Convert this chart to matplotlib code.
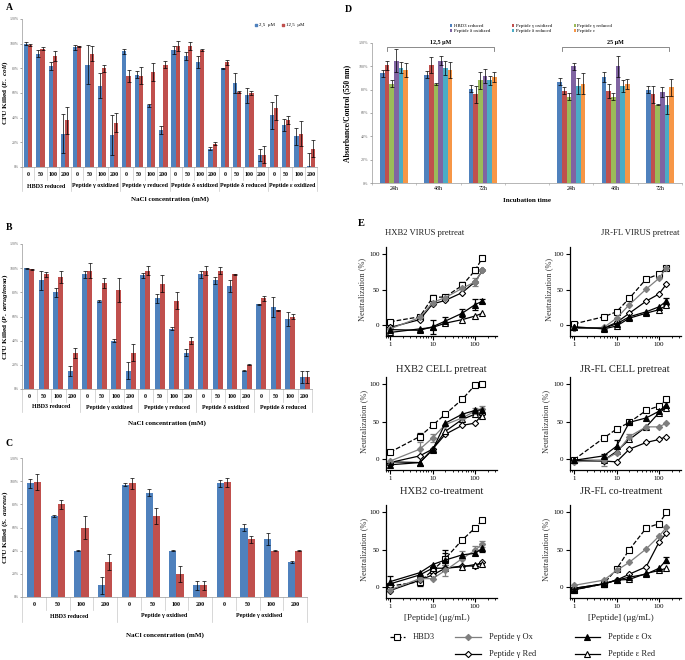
import matplotlib
matplotlib.use('Agg')
import matplotlib.pyplot as plt
import numpy as np
from matplotlib.transforms import blended_transform_factory

plt.rcParams['font.family'] = ['Liberation Serif', 'DejaVu Serif']
plt.rcParams['mathtext.fontset'] = 'custom'
plt.rcParams['mathtext.it'] = 'Liberation Serif:italic:bold'
plt.rcParams['mathtext.rm'] = 'Liberation Serif:bold'

# ---------------- data ----------------
nacl = ['0', '50', '100', '200']

a_groups = ['HBD3 reduced', 'Peptide γ oxidized', 'Peptide γ reduced',
            'Peptide δ oxidized', 'Peptide δ reduced', 'Peptide ε oxidized']
a_blue = [100, 92, 82, 27, 97, 83, 66, 26, 94, 75, 50, 30,
          95, 90, 85, 15, 80, 68, 58, 10, 42, 34, 25, 1]
a_blue_err = [1, 3, 3, 16, 2, 16, 10, 16, 2, 3, 1, 3,
              3, 3, 5, 1, 0.5, 8, 6, 5, 11, 5, 7, 10]
a_red = [99, 96, 90, 38, 98, 92, 80, 36, 74, 74, 77, 83,
         98, 98, 95, 19, 85, 61, 60, 10, 48, 38, 27, 15]
a_red_err = [0.5, 1, 4, 11, 0.5, 6, 3, 8, 5, 7, 7, 3,
             4, 3, 1, 1, 2, 1, 2, 7, 10, 3, 10, 7]

b_groups = ['HBD3 reduced', 'Peptide γ oxidized', 'Peptide γ reduced',
            'Peptide δ oxidized', 'Peptide δ reduced']
b_blue = [100, 90, 80, 15, 95, 73, 40, 15, 94, 75, 50, 30,
          95, 90, 85, 15, 70, 68, 58, 10]
b_blue_err = [0.5, 8, 4, 4, 3, 1, 1, 7, 2, 4, 1, 3,
              3, 3, 5, 0.5, 0.5, 8, 6, 5]
b_red = [99, 95, 93, 30, 98, 88, 82, 30, 98, 87, 73, 40,
         98, 98, 95, 20, 75, 65, 60, 10]
b_red_err = [0.5, 2, 5, 4, 6, 4, 10, 7, 4, 7, 7, 3,
             4, 3, 0.5, 0.5, 2, 0.5, 2, 5]

c_groups = ['HBD3 reduced', 'Peptide γ oxidised', 'Peptide γ oxidised']
c_blue = [98, 70, 40, 10, 97, 90, 40, 10, 98, 60, 50, 30]
c_blue_err = [4, 1, 0.5, 7, 1, 3, 0.5, 4, 3, 3, 5, 1]
c_red = [99, 80, 60, 30, 98, 70, 20, 10, 99, 50, 40, 40]
c_red_err = [7, 4, 10, 7, 5, 7, 7, 4, 4, 3, 0.5, 0.5]

d_times = ['24h', '48h', '72h', '', '24h', '48h', '72h']
d_series = ['HBD3 reduced', 'Peptide γ oxidized', 'Peptide γ reduced',
            'Peptide δ oxidized', 'Peptide δ reduced', 'Peptide ε']
d_hbd3 = [94, 93, 81, 87, 91, 80]
d_hbd3_err = [3, 3, 3, 3, 4, 3]
d_gox = [101, 101, 76, 79, 79, 76]
d_gox_err = [4, 7, 7, 3, 6, 7]
d_gred = [85, 85, 88, 74, 74, 67]
d_gred_err = [3, 1, 7, 3, 3, 0.5]
d_dox = [105, 105, 92, 100, 100, 78]
d_dox_err = [10, 4, 6, 3, 9, 4]
d_dred = [99, 99, 88, 83, 83, 67]
d_dred_err = [5, 6, 4, 7, 5, 8]
d_eps = [97, 97, 91, 85, 85, 82]
d_eps_err = [6, 7, 4, 9, 4, 7]
d_conc_labels = ['12,5 µM', '25 µM']

e_conc = [1, 5, 10, 20, 50, 100, 150]
e_series = ['HBD3', 'Peptide γ Ox', 'Peptide γ Red', 'Peptide ε Ox', 'Peptide ε Red']

hxb2_virus_hbd3 = [5, 12, 39, 40, 56, 77, 95]
hxb2_virus_gox = [-5, 11, 32, 39, 52, 61, 77]
hxb2_virus_gred = [-3, 8, 30, 35, 46, 61, 77]
hxb2_virus_eox = [-6, -7, -2, 6, 17, 29, 34]
hxb2_virus_ered = [-10, -5, -3, 3, 8, 13, 17]
hxb2_virus_hbd3_err = [0, 0, 3, 0, 5, 3, 0]
hxb2_virus_gox_err = [0, 0, 0, 0, 0, 6, 0]
hxb2_virus_eox_err = [0, 0, 10, 5, 6, 8, 3]

jrfl_virus_hbd3 = [2, 12, 19, 38, 65, 72, 81]
jrfl_virus_gox = [-4, -3, 10, 29, 51, 66, 81]
jrfl_virus_gred = [-4, -4, 4, 17, 34, 44, 58]
jrfl_virus_eox = [-3, -4, 2, 12, 19, 26, 34]
jrfl_virus_ered = [-2, -5, -1, 10, 17, 22, 28]
jrfl_virus_eox_err = [0, 0, 0, 0, 0, 0, 5]

hxb2_cell_hbd3 = [9, 30, 45, 60, 80, 99, 100]
hxb2_cell_gox = [-3, 13, 28, 46, 55, 64, 67]
hxb2_cell_gred = [-5, 4, 13, 33, 45, 48, 60]
hxb2_cell_eox = [-8, -5, 12, 48, 60, 65, 66]
hxb2_cell_ered = [-4, -5, 13, 37, 53, 60, 58]
hxb2_cell_hbd3_err = [0, 5, 0, 0, 0, 0, 0]
hxb2_cell_gox_err = [0, 10, 6, 0, 5, 4, 4]

jrfl_cell_hbd3 = [-1, 28, 40, 49, 65, 71, 80]
jrfl_cell_gox = [-4, -2, 8, 30, 43, 43, 48]
jrfl_cell_gred = [-3, -3, -4, 13, 22, 26, 30]
jrfl_cell_eox = [-2, 4, 17, 49, 55, 64, 73]
jrfl_cell_ered = [-2, -2, 10, 26, 43, 62, 69]
jrfl_cell_gox_err = [0, 7, 0, 3, 0, 0, 0]
jrfl_cell_eox_err = [0, 3, 8, 0, 0, 0, 4]

hxb2_co_hbd3 = [1, 7, 22, 38, 63, 79, 90]
hxb2_co_gox = [-4, 11, 11, 22, 38, 49, 58]
hxb2_co_gred = [-5, 9, 16, 25, 28, 28, 34]
hxb2_co_eox = [7, 19, 30, 36, 43, 45, 52]
hxb2_co_ered = [4, 16, 25, 25, 27, 30, 31]
hxb2_co_hbd3_err = [0, 6, 0, 8, 0, 0, 0]
hxb2_co_gox_err = [0, 0, 0, 8, 10, 6, 4]
hxb2_co_eox_err = [8, 0, 0, 13, 0, 0, 5]

jrfl_co_hbd3 = [-4, 4, 24, 50, 79, 85, 100]
jrfl_co_gox = [2, 9, 22, 33, 51, 68, 80]
jrfl_co_gred = [-2, 4, 9, 17, 27, 60, 72]
jrfl_co_eox = [-4, 4, 9, 13, 17, 25, 36]
jrfl_co_ered = [-2, 4, 9, 10, 18, 22, 25]
jrfl_co_eox_err = [0, 0, 0, 0, 0, 0, 4]

# ---------------- figure ----------------
W, H = 685, 660
fig = plt.figure(figsize=(W / 100, H / 100), dpi=100)
fig.patch.set_facecolor('white')

BLUE = '#4F81BD'
RED = '#C0504D'
D_COLORS = ['#4F81BD', '#C0504D', '#9BBB59', '#8064A2', '#4BACC6', '#F79646']


def axpx(l, t, r, b, **kw):
    return fig.add_axes([l / W, 1 - b / H, (r - l) / W, (b - t) / H], **kw)


ov = fig.add_axes([0, 0, 1, 1], zorder=10)
ov.set_xlim(0, W)
ov.set_ylim(H, 0)
ov.axis('off')
ov.patch.set_alpha(0)


def T(x, y, s, **kw):
    kw.setdefault('ha', 'center')
    kw.setdefault('va', 'center')
    ov.text(x, y, s, **kw)


ekw = dict(elinewidth=0.5, capsize=1.1, capthick=0.5, ecolor='black')


def bar_panel(rect, groups, blue, blue_err, red, red_err, width, ylabel,
              tick_y, group_y, xlabel_y, sep_short, sep_long):
    l, t, r, b = rect
    ax = axpx(l, t, r, b)
    n = len(blue)
    x = np.arange(n)
    ax.bar(x - width / 2, blue, width, yerr=blue_err, color=BLUE, error_kw=ekw)
    ax.bar(x + width / 2, red, width, yerr=red_err, color=RED, error_kw=ekw)
    ax.set_xlim(-0.5, n - 0.5)
    ax.set_ylim(0, 120)
    ax.set_yticks(range(0, 121, 20))
    ax.set_yticklabels([f'{v}%' for v in range(0, 121, 20)])
    ax.tick_params(axis='y', labelsize=2.8, length=1.5, width=0.4, pad=0.8,
                   colors='#666666')
    ax.set_xticks([])
    for s in ('top', 'right'):
        ax.spines[s].set_visible(False)
    for s in ('left', 'bottom'):
        ax.spines[s].set_color('#999999')
        ax.spines[s].set_linewidth(0.5)
    hpx = b - t
    trans = blended_transform_factory(ax.transData, ax.transAxes)
    for i in range(n + 1):
        L = (sep_long if i % 4 == 0 else sep_short) / hpx
        ax.plot([i - 0.5, i - 0.5], [0, -L], transform=trans, clip_on=False,
                color='#c8c8c8', lw=0.5)
    for i in range(n):
        ax.text(i, -(tick_y - b) / hpx, nacl[i % 4], transform=trans,
                ha='center', va='center', fontsize=4.3, fontweight='bold')
    for g, name in enumerate(groups):
        ax.text(g * 4 + 1.5, -(group_y - b) / hpx, name, transform=trans,
                ha='center', va='center', fontsize=4.3, fontweight='bold')
    T((l + r) / 2, xlabel_y, 'NaCl concentration (mM)', fontsize=5,
      fontweight='bold')
    T(5.5, (t + b) / 2, ylabel, rotation=90, fontsize=5.2, fontweight='bold')
    return ax


# Panel A
axA = bar_panel((22, 19, 317, 167), a_groups, a_blue, a_blue_err, a_red, a_red_err,
                0.34, r'CFU Killed ($\mathit{E.\ coli}$)', 174, 186, 199, 13, 24)
T(6, 8, 'A', fontsize=7, fontweight='bold', ha='left')
ov.scatter([256, 283], [25, 25], marker='s', s=2.5, c=[BLUE, RED])
T(259, 25, '2,5  µM', fontsize=3.5, ha='left')
T(286, 25, '12,5  µM', fontsize=3.5, ha='left')

# Panel B
axB = bar_panel((22, 244, 312, 389), b_groups, b_blue, b_blue_err, b_red, b_red_err,
                0.34, r'CFU Killed ($\mathit{P.\ aeruginosa}$)', 397, 407, 423, 13, 23)
T(6, 228, 'B', fontsize=7, fontweight='bold', ha='left')

# Panel C
axC = bar_panel((22, 458, 307, 597), c_groups, c_blue, c_blue_err, c_red, c_red_err,
                0.3, r'CFU Killed ($\mathit{S.\ aureus}$)', 605, 616, 635, 13, 25)
T(6, 443, 'C', fontsize=7, fontweight='bold', ha='left')

# Panel D
axD = axpx(372, 43, 682, 183)
d_pos = [i for i, s in enumerate(d_times) if s]
d_vals = [d_hbd3, d_gox, d_gred, d_dox, d_dred, d_eps]
d_errs = [d_hbd3_err, d_gox_err, d_gred_err, d_dox_err, d_dred_err, d_eps_err]
bw = 0.105
handles = []
for k in range(6):
    xs = np.array(d_pos) + (k - 2.5) * bw
    hb = axD.bar(xs, d_vals[k], bw, yerr=d_errs[k], color=D_COLORS[k],
                 error_kw=ekw, label=d_series[k])
    handles.append(hb)
axD.set_xlim(-0.5, len(d_times) - 0.5)
axD.set_ylim(0, 120)
axD.set_yticks(range(0, 121, 20))
axD.set_yticklabels([f'{v}%' for v in range(0, 121, 20)])
axD.tick_params(axis='y', labelsize=3, length=1.5, width=0.4, pad=1, colors='#666666')
axD.set_xticks(np.arange(len(d_times) + 1) - 0.5)
axD.set_xticklabels([])
axD.tick_params(axis='x', length=1.5, width=0.4, colors='#999999')
axD.set_xticks(range(len(d_times)), minor=True)
axD.set_xticklabels(d_times, minor=True)
axD.tick_params(axis='x', which='minor', length=0, labelsize=4.3, pad=2, labelcolor='black')
for s in ('top', 'right'):
    axD.spines[s].set_visible(False)
for s in ('left', 'bottom'):
    axD.spines[s].set_color('#999999')
    axD.spines[s].set_linewidth(0.5)
for (x0, x1), lab in zip([(-0.16, 2.25), (3.79, 6.2)], d_conc_labels):
    axD.plot([x0, x0, x1, x1], [113, 117, 117, 113], color='#777777', lw=0.6,
             clip_on=False)
    axD.text((x0 + x1) / 2, 118.5, lab, ha='center', va='bottom', fontsize=4.3,
             fontweight='bold')
T(527, 200, 'Incubation time', fontsize=5, fontweight='bold')
T(347, 113, 'Absorbance/Control (550 nm)', rotation=90, fontsize=5.5, fontweight='bold')
T(345, 10, 'D', fontsize=7, fontweight='bold', ha='left')
order = [0, 3, 1, 4, 2, 5]
fig.legend([handles[i] for i in order], [d_series[i] for i in order], ncol=3,
           loc='center', bbox_to_anchor=(531 / W, 1 - 28.5 / H), fontsize=3.5,
           frameon=False, handlelength=0.5, handleheight=0.5, columnspacing=4.5,
           labelspacing=0.15, handletextpad=0.3, borderpad=0)

# Panel E
T(358, 223, 'E', fontsize=7.5, fontweight='bold', ha='left')

e_styles = [
    dict(marker='s', ms=4.5, mfc='white', mec='black', color='black', ls='--'),
    dict(marker='D', ms=3.2, mfc='#7f7f7f', mec='#7f7f7f', color='#7f7f7f', ls='-'),
    dict(marker='D', ms=3.2, mfc='white', mec='black', color='black', ls='-'),
    dict(marker='^', ms=4, mfc='black', mec='black', color='black', ls='-'),
    dict(marker='^', ms=4, mfc='white', mec='black', color='black', ls='-'),
]

zero = [0] * 7
e_panels = [
    ((386, 247, 497, 336), 'HXB2 VIRUS pretreat', (425, 233), 6.2, 362,
     [hxb2_virus_hbd3, hxb2_virus_gox, hxb2_virus_gred, hxb2_virus_eox, hxb2_virus_ered],
     [hxb2_virus_hbd3_err, hxb2_virus_gox_err, zero, hxb2_virus_eox_err, zero], False),
    ((570, 247, 681, 336), 'JR-FL VIRUS pretreat', (640, 233), 6.2, 549,
     [jrfl_virus_hbd3, jrfl_virus_gox, jrfl_virus_gred, jrfl_virus_eox, jrfl_virus_ered],
     [zero, zero, zero, jrfl_virus_eox_err, zero], False),
    ((386, 377, 497, 470), 'HXB2 CELL pretreat', (441, 369), 7.6, 364,
     [hxb2_cell_hbd3, hxb2_cell_gox, hxb2_cell_gred, hxb2_cell_eox, hxb2_cell_ered],
     [hxb2_cell_hbd3_err, hxb2_cell_gox_err, zero, zero, zero], False),
    ((570, 377, 681, 470), 'JR-FL CELL pretreat', (625, 369), 7.6, 546,
     [jrfl_cell_hbd3, jrfl_cell_gox, jrfl_cell_gred, jrfl_cell_eox, jrfl_cell_ered],
     [zero, jrfl_cell_gox_err, zero, jrfl_cell_eox_err, zero], False),
    ((386, 505, 497, 598), 'HXB2 co-treatment', (442, 492), 7.6, 364,
     [hxb2_co_hbd3, hxb2_co_gox, hxb2_co_gred, hxb2_co_eox, hxb2_co_ered],
     [hxb2_co_hbd3_err, hxb2_co_gox_err, zero, hxb2_co_eox_err, zero], True),
    ((570, 505, 681, 598), 'JR-FL co-treatment', (621, 492), 7.6, 546,
     [jrfl_co_hbd3, jrfl_co_gox, jrfl_co_gred, jrfl_co_eox, jrfl_co_ered],
     [zero, zero, zero, jrfl_co_eox_err, zero], True),
]

for rect, title, tpos, tsize, ylx, vals, errs, xlab in e_panels:
    ax = axpx(*rect)
    ax.set_xscale('log')
    for k in range(5):
        v = np.array(vals[k], float)
        e = np.array(errs[k], float)
        c = np.array(e_conc, float)
        m = e > 0
        if m.any():
            ax.errorbar(c[m], v[m], yerr=e[m], fmt='none', ecolor=e_styles[k]['color'],
                        elinewidth=0.9, capsize=2, capthick=0.9, zorder=2)
        ax.plot(c, v, lw=0.9, mew=0.8, zorder=3 + k % 2, **e_styles[k])
    ax.set_xlim(0.8, 330)
    ax.set_ylim(-15, 110)
    ax.set_yticks([0, 50, 100])
    ax.set_xticks([1, 10, 100])
    ax.set_xticklabels(['1', '10', '100'])
    ax.tick_params(which='major', direction='out', length=3, width=0.8,
                   labelsize=5, pad=1.5, colors='black')
    ax.tick_params(which='minor', direction='out', length=1.6, width=0.6)
    for s in ('top', 'right'):
        ax.spines[s].set_visible(False)
    for s in ('left', 'bottom'):
        ax.spines[s].set_linewidth(0.9)
    T(tpos[0], tpos[1], title, fontsize=tsize, color='#222222')
    T(ylx, (rect[1] + rect[3]) / 2 - 2, 'Neutralization (%)', rotation=90,
      fontsize=6, color='#333333')
    if xlab:
        T((rect[0] + rect[2]) / 2 - 5, 618, '[Peptide] (µg/mL)', fontsize=6.5,
          color='#222222')

# E legend (manual)
leg_items = [
    (0, 390, 405, 637),
    (1, 455, 481, 637),
    (3, 575, 600, 637),
    (2, 455, 481, 654),
    (4, 575, 600, 654),
]
for k, x0, x1, y in leg_items:
    st = e_styles[k]
    ov.plot([x0, x1], [y, y], color=st['color'], ls=st['ls'], lw=0.9)
    ov.plot([(x0 + x1) / 2], [y], ls='none', marker=st['marker'], ms=st['ms'],
            mfc=st['mfc'], mec=st['mec'], mew=0.8)
    T(x1 + 8, y, e_series[k], ha='left', fontsize=6, color='#222222')

fig.savefig('out.png', dpi=100, facecolor='white')
